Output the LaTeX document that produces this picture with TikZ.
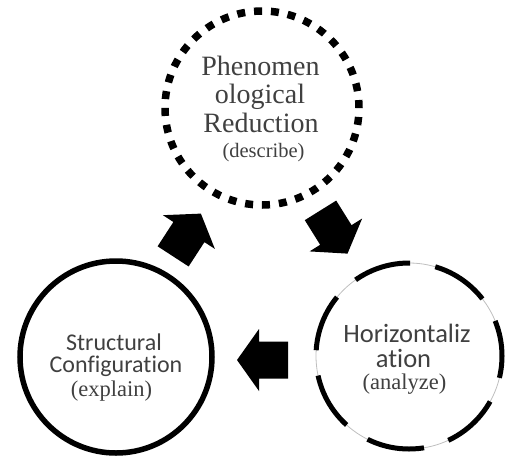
\documentclass[tikz,border=0pt]{standalone}
\usepackage{fontspec}
\setmainfont{Liberation Serif}
\newfontfamily\carlito[Ligatures=NoCommon]{Carlito}
\begin{document}
\begin{tikzpicture}[x=1pt,y=-1pt,
  txt/.style={text=black!75, inner sep=0pt, anchor=base},
  serifbig/.style={txt, font=\fontsize{28}{28}\selectfont},
  serifsmall/.style={txt, font=\fontsize{#1}{#1}\selectfont},
  sansbig/.style={txt, font=\carlito\fontsize{#1}{#1}\selectfont},
  ring/.style={circle, draw=black, inner sep=0pt, line cap=butt},
  blockarrow/.pic={\fill[black] (25.5,0) -- (3.5,31) -- (3.5,18.5) -- (-25.5,18.5)
      -- (-25.5,-18.5) -- (3.5,-18.5) -- (3.5,-31) -- cycle;}
]
\useasboundingbox (0,0) rectangle (506,464);

% circles
\node[ring, minimum size=194pt, line width=7.5pt, dash pattern=on 8pt off 8.93pt] (reduc) at (262,108) {};
\draw[black!25, line width=0.8pt] (409,356) circle[radius=93];
\node[ring, minimum size=186pt, line width=5pt, dash pattern=on 58pt off 25.47pt, dash phase=22pt] (horiz) at (409,356) {};
\node[ring, minimum size=192pt, line width=5.5pt] (struct) at (116,357) {};

% texts top
\node[serifbig] (t1) at (260.5,75) {Phenomen};
\node[serifbig] (t2) at (260,103) {ological};
\node[serifbig] (t3) at (261,132) {Reduction};
\node[serifsmall=20.5] (t4) at (263.5,157) {(describe)};

% texts right
\node[sansbig=26.5] (r1) at (407,342) {Horizontaliz};
\node[sansbig=26.5] (r2) at (403.5,367) {ation};
\node[serifsmall=22.5] (r3) at (404.5,389) {(analyze)};

% texts left
\node[sansbig=24] (l1) at (114,350) {Structural};
\node[sansbig=24] (l2) at (116,372.5) {Configuration};
\node[serifsmall=22.5] (l3) at (111.5,396) {(explain)};

% block arrows
\pic[rotate=57] at (187,235) {blockarrow};
\pic[rotate=-58] at (334,232) {blockarrow};
\pic[rotate=180] at (262.5,360) {blockarrow};
\end{tikzpicture}
\end{document}
